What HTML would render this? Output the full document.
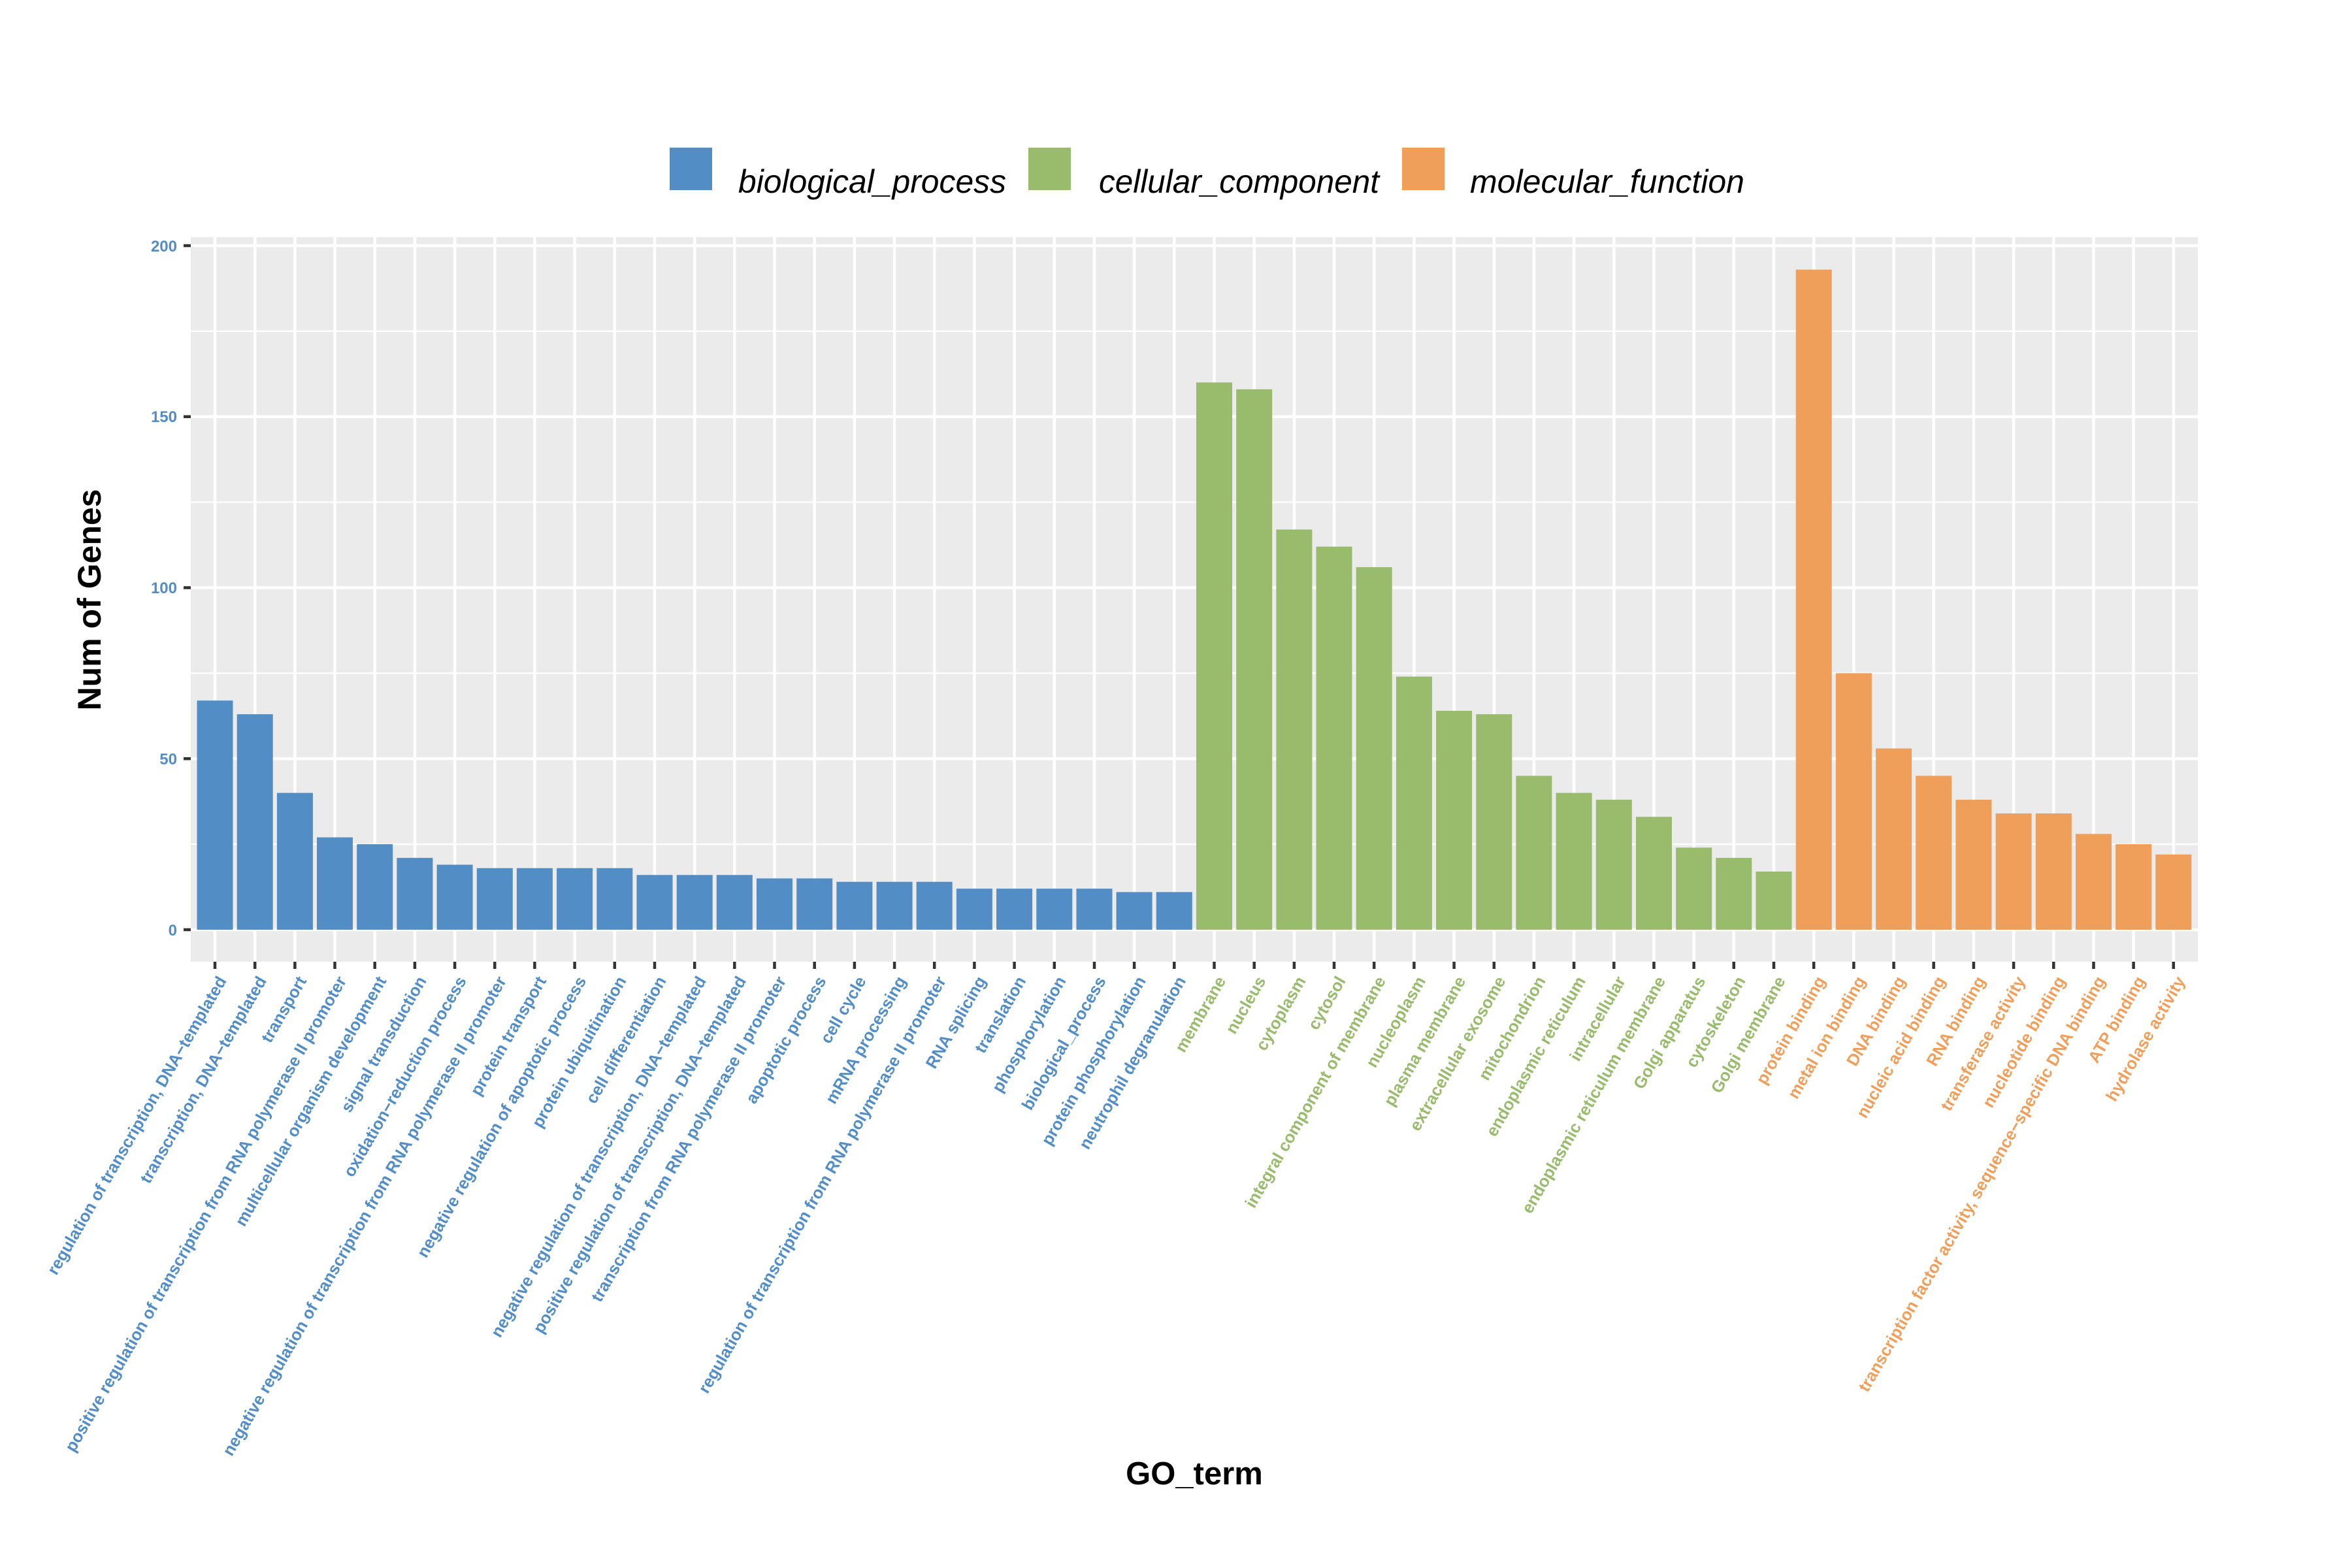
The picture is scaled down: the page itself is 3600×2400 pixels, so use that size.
<!DOCTYPE html>
<html><head><meta charset="utf-8"><style>
html,body{margin:0;padding:0;background:#fff;}
svg{display:block;font-family:"Liberation Sans",Arial,sans-serif;}
.xl text{font-size:25.5px;font-weight:bold;text-anchor:end;}
</style></head><body>
<svg width="3600" height="2400" viewBox="0 0 3600 2400" xmlns="http://www.w3.org/2000/svg">
<rect width="3600" height="2400" fill="#fff"/>
<rect x="1025" y="226" width="65" height="65" fill="#528ec5"/>
<text x="1130" y="295" font-size="50" font-style="italic" textLength="410" lengthAdjust="spacingAndGlyphs">biological_process</text>
<rect x="1574" y="226" width="65" height="65" fill="#98bb6c"/>
<text x="1682" y="295" font-size="50" font-style="italic" textLength="429" lengthAdjust="spacingAndGlyphs">cellular_component</text>
<rect x="2146" y="226" width="65" height="65" fill="#f09f5b"/>
<text x="2250" y="295" font-size="50" font-style="italic" textLength="420" lengthAdjust="spacingAndGlyphs">molecular_function</text>
<rect x="292" y="363" width="3072" height="1109" fill="#ebebeb"/>
<g stroke="#fff" stroke-width="2.3">
<line x1="292" x2="3364" y1="1292.1" y2="1292.1"/><line x1="292" x2="3364" y1="1030.4" y2="1030.4"/><line x1="292" x2="3364" y1="768.6" y2="768.6"/><line x1="292" x2="3364" y1="506.9" y2="506.9"/>
</g>
<g stroke="#fff" stroke-width="4.5">
<line x1="292" x2="3364" y1="1423" y2="1423"/><line x1="292" x2="3364" y1="1161.25" y2="1161.25"/><line x1="292" x2="3364" y1="899.5" y2="899.5"/><line x1="292" x2="3364" y1="637.75" y2="637.75"/><line x1="292" x2="3364" y1="376" y2="376"/>
</g>
<g stroke="#fff" stroke-width="4.5">
<line x1="329.0" x2="329.0" y1="363" y2="1472"/><line x1="390.2" x2="390.2" y1="363" y2="1472"/><line x1="451.4" x2="451.4" y1="363" y2="1472"/><line x1="512.5" x2="512.5" y1="363" y2="1472"/><line x1="573.7" x2="573.7" y1="363" y2="1472"/><line x1="634.9" x2="634.9" y1="363" y2="1472"/><line x1="696.1" x2="696.1" y1="363" y2="1472"/><line x1="757.3" x2="757.3" y1="363" y2="1472"/><line x1="818.4" x2="818.4" y1="363" y2="1472"/><line x1="879.6" x2="879.6" y1="363" y2="1472"/><line x1="940.8" x2="940.8" y1="363" y2="1472"/><line x1="1002.0" x2="1002.0" y1="363" y2="1472"/><line x1="1063.2" x2="1063.2" y1="363" y2="1472"/><line x1="1124.3" x2="1124.3" y1="363" y2="1472"/><line x1="1185.5" x2="1185.5" y1="363" y2="1472"/><line x1="1246.7" x2="1246.7" y1="363" y2="1472"/><line x1="1307.9" x2="1307.9" y1="363" y2="1472"/><line x1="1369.1" x2="1369.1" y1="363" y2="1472"/><line x1="1430.2" x2="1430.2" y1="363" y2="1472"/><line x1="1491.4" x2="1491.4" y1="363" y2="1472"/><line x1="1552.6" x2="1552.6" y1="363" y2="1472"/><line x1="1613.8" x2="1613.8" y1="363" y2="1472"/><line x1="1675.0" x2="1675.0" y1="363" y2="1472"/><line x1="1736.1" x2="1736.1" y1="363" y2="1472"/><line x1="1797.3" x2="1797.3" y1="363" y2="1472"/><line x1="1858.5" x2="1858.5" y1="363" y2="1472"/><line x1="1919.7" x2="1919.7" y1="363" y2="1472"/><line x1="1980.9" x2="1980.9" y1="363" y2="1472"/><line x1="2042.0" x2="2042.0" y1="363" y2="1472"/><line x1="2103.2" x2="2103.2" y1="363" y2="1472"/><line x1="2164.4" x2="2164.4" y1="363" y2="1472"/><line x1="2225.6" x2="2225.6" y1="363" y2="1472"/><line x1="2286.8" x2="2286.8" y1="363" y2="1472"/><line x1="2347.9" x2="2347.9" y1="363" y2="1472"/><line x1="2409.1" x2="2409.1" y1="363" y2="1472"/><line x1="2470.3" x2="2470.3" y1="363" y2="1472"/><line x1="2531.5" x2="2531.5" y1="363" y2="1472"/><line x1="2592.7" x2="2592.7" y1="363" y2="1472"/><line x1="2653.8" x2="2653.8" y1="363" y2="1472"/><line x1="2715.0" x2="2715.0" y1="363" y2="1472"/><line x1="2776.2" x2="2776.2" y1="363" y2="1472"/><line x1="2837.4" x2="2837.4" y1="363" y2="1472"/><line x1="2898.6" x2="2898.6" y1="363" y2="1472"/><line x1="2959.7" x2="2959.7" y1="363" y2="1472"/><line x1="3020.9" x2="3020.9" y1="363" y2="1472"/><line x1="3082.1" x2="3082.1" y1="363" y2="1472"/><line x1="3143.3" x2="3143.3" y1="363" y2="1472"/><line x1="3204.5" x2="3204.5" y1="363" y2="1472"/><line x1="3265.6" x2="3265.6" y1="363" y2="1472"/><line x1="3326.8" x2="3326.8" y1="363" y2="1472"/>
</g>
<g transform="matrix(1,0,0,-5.235,0,1423)">
<g fill="#528ec5">
<rect x="301.5" width="55" y="0" height="67"/><rect x="362.7" width="55" y="0" height="63"/><rect x="423.9" width="55" y="0" height="40"/><rect x="485.0" width="55" y="0" height="27"/><rect x="546.2" width="55" y="0" height="25"/><rect x="607.4" width="55" y="0" height="21"/><rect x="668.6" width="55" y="0" height="19"/><rect x="729.8" width="55" y="0" height="18"/><rect x="790.9" width="55" y="0" height="18"/><rect x="852.1" width="55" y="0" height="18"/><rect x="913.3" width="55" y="0" height="18"/><rect x="974.5" width="55" y="0" height="16"/><rect x="1035.7" width="55" y="0" height="16"/><rect x="1096.8" width="55" y="0" height="16"/><rect x="1158.0" width="55" y="0" height="15"/><rect x="1219.2" width="55" y="0" height="15"/><rect x="1280.4" width="55" y="0" height="14"/><rect x="1341.6" width="55" y="0" height="14"/><rect x="1402.7" width="55" y="0" height="14"/><rect x="1463.9" width="55" y="0" height="12"/><rect x="1525.1" width="55" y="0" height="12"/><rect x="1586.3" width="55" y="0" height="12"/><rect x="1647.5" width="55" y="0" height="12"/><rect x="1708.6" width="55" y="0" height="11"/><rect x="1769.8" width="55" y="0" height="11"/>
</g>
<g fill="#98bb6c">
<rect x="1831.0" width="55" y="0" height="160"/><rect x="1892.2" width="55" y="0" height="158"/><rect x="1953.4" width="55" y="0" height="117"/><rect x="2014.5" width="55" y="0" height="112"/><rect x="2075.7" width="55" y="0" height="106"/><rect x="2136.9" width="55" y="0" height="74"/><rect x="2198.1" width="55" y="0" height="64"/><rect x="2259.3" width="55" y="0" height="63"/><rect x="2320.4" width="55" y="0" height="45"/><rect x="2381.6" width="55" y="0" height="40"/><rect x="2442.8" width="55" y="0" height="38"/><rect x="2504.0" width="55" y="0" height="33"/><rect x="2565.2" width="55" y="0" height="24"/><rect x="2626.3" width="55" y="0" height="21"/><rect x="2687.5" width="55" y="0" height="17"/>
</g>
<g fill="#f09f5b">
<rect x="2748.7" width="55" y="0" height="193"/><rect x="2809.9" width="55" y="0" height="75"/><rect x="2871.1" width="55" y="0" height="53"/><rect x="2932.2" width="55" y="0" height="45"/><rect x="2993.4" width="55" y="0" height="38"/><rect x="3054.6" width="55" y="0" height="34"/><rect x="3115.8" width="55" y="0" height="34"/><rect x="3177.0" width="55" y="0" height="28"/><rect x="3238.1" width="55" y="0" height="25"/><rect x="3299.3" width="55" y="0" height="22"/>
</g>
</g>
<g stroke="#333" stroke-width="4.5">
<line x1="281" x2="292" y1="1423" y2="1423"/><line x1="281" x2="292" y1="1161.25" y2="1161.25"/><line x1="281" x2="292" y1="899.5" y2="899.5"/><line x1="281" x2="292" y1="637.75" y2="637.75"/><line x1="281" x2="292" y1="376" y2="376"/>
</g>
<g fill="#528ec5" font-size="24" font-weight="bold" text-anchor="end">
<text x="271" y="1432">0</text><text x="271" y="1170">50</text><text x="271" y="908">100</text><text x="271" y="646">150</text><text x="271" y="385">200</text>
</g>
<g stroke="#333" stroke-width="4.5">
<path d="M329.0 1472v11M390.2 1472v11M451.4 1472v11M512.5 1472v11M573.7 1472v11M634.9 1472v11M696.1 1472v11M757.3 1472v11M818.4 1472v11M879.6 1472v11M940.8 1472v11M1002.0 1472v11M1063.2 1472v11M1124.3 1472v11M1185.5 1472v11M1246.7 1472v11M1307.9 1472v11M1369.1 1472v11M1430.2 1472v11M1491.4 1472v11M1552.6 1472v11M1613.8 1472v11M1675.0 1472v11M1736.1 1472v11M1797.3 1472v11M1858.5 1472v11M1919.7 1472v11M1980.9 1472v11M2042.0 1472v11M2103.2 1472v11M2164.4 1472v11M2225.6 1472v11M2286.8 1472v11M2347.9 1472v11M2409.1 1472v11M2470.3 1472v11M2531.5 1472v11M2592.7 1472v11M2653.8 1472v11M2715.0 1472v11M2776.2 1472v11M2837.4 1472v11M2898.6 1472v11M2959.7 1472v11M3020.9 1472v11M3082.1 1472v11M3143.3 1472v11M3204.5 1472v11M3265.6 1472v11M3326.8 1472v11"/>
</g>
<g class="xl" fill="#528ec5">
<text transform="translate(332.0,1492) rotate(-60)" dy="0.7em">regulation of transcription, DNA−templated</text>
<text transform="translate(393.2,1492) rotate(-60)" dy="0.7em">transcription, DNA−templated</text>
<text transform="translate(454.4,1492) rotate(-60)" dy="0.7em">transport</text>
<text transform="translate(515.5,1492) rotate(-60)" dy="0.7em">positive regulation of transcription from RNA polymerase II promoter</text>
<text transform="translate(576.7,1492) rotate(-60)" dy="0.7em">multicellular organism development</text>
<text transform="translate(637.9,1492) rotate(-60)" dy="0.7em">signal transduction</text>
<text transform="translate(699.1,1492) rotate(-60)" dy="0.7em">oxidation−reduction process</text>
<text transform="translate(760.3,1492) rotate(-60)" dy="0.7em">negative regulation of transcription from RNA polymerase II promoter</text>
<text transform="translate(821.4,1492) rotate(-60)" dy="0.7em">protein transport</text>
<text transform="translate(882.6,1492) rotate(-60)" dy="0.7em">negative regulation of apoptotic process</text>
<text transform="translate(943.8,1492) rotate(-60)" dy="0.7em">protein ubiquitination</text>
<text transform="translate(1005.0,1492) rotate(-60)" dy="0.7em">cell differentiation</text>
<text transform="translate(1066.2,1492) rotate(-60)" dy="0.7em">negative regulation of transcription, DNA−templated</text>
<text transform="translate(1127.3,1492) rotate(-60)" dy="0.7em">positive regulation of transcription, DNA−templated</text>
<text transform="translate(1188.5,1492) rotate(-60)" dy="0.7em">transcription from RNA polymerase II promoter</text>
<text transform="translate(1249.7,1492) rotate(-60)" dy="0.7em">apoptotic process</text>
<text transform="translate(1310.9,1492) rotate(-60)" dy="0.7em">cell cycle</text>
<text transform="translate(1372.1,1492) rotate(-60)" dy="0.7em">mRNA processing</text>
<text transform="translate(1433.2,1492) rotate(-60)" dy="0.7em">regulation of transcription from RNA polymerase II promoter</text>
<text transform="translate(1494.4,1492) rotate(-60)" dy="0.7em">RNA splicing</text>
<text transform="translate(1555.6,1492) rotate(-60)" dy="0.7em">translation</text>
<text transform="translate(1616.8,1492) rotate(-60)" dy="0.7em">phosphorylation</text>
<text transform="translate(1678.0,1492) rotate(-60)" dy="0.7em">biological_process</text>
<text transform="translate(1739.1,1492) rotate(-60)" dy="0.7em">protein phosphorylation</text>
<text transform="translate(1800.3,1492) rotate(-60)" dy="0.7em">neutrophil degranulation</text>
</g>
<g class="xl" fill="#98bb6c">
<text transform="translate(1861.5,1492) rotate(-60)" dy="0.7em">membrane</text>
<text transform="translate(1922.7,1492) rotate(-60)" dy="0.7em">nucleus</text>
<text transform="translate(1983.9,1492) rotate(-60)" dy="0.7em">cytoplasm</text>
<text transform="translate(2045.0,1492) rotate(-60)" dy="0.7em">cytosol</text>
<text transform="translate(2106.2,1492) rotate(-60)" dy="0.7em">integral component of membrane</text>
<text transform="translate(2167.4,1492) rotate(-60)" dy="0.7em">nucleoplasm</text>
<text transform="translate(2228.6,1492) rotate(-60)" dy="0.7em">plasma membrane</text>
<text transform="translate(2289.8,1492) rotate(-60)" dy="0.7em">extracellular exosome</text>
<text transform="translate(2350.9,1492) rotate(-60)" dy="0.7em">mitochondrion</text>
<text transform="translate(2412.1,1492) rotate(-60)" dy="0.7em">endoplasmic reticulum</text>
<text transform="translate(2473.3,1492) rotate(-60)" dy="0.7em">intracellular</text>
<text transform="translate(2534.5,1492) rotate(-60)" dy="0.7em">endoplasmic reticulum membrane</text>
<text transform="translate(2595.7,1492) rotate(-60)" dy="0.7em">Golgi apparatus</text>
<text transform="translate(2656.8,1492) rotate(-60)" dy="0.7em">cytoskeleton</text>
<text transform="translate(2718.0,1492) rotate(-60)" dy="0.7em">Golgi membrane</text>
</g>
<g class="xl" fill="#f09f5b">
<text transform="translate(2779.2,1492) rotate(-60)" dy="0.7em">protein binding</text>
<text transform="translate(2840.4,1492) rotate(-60)" dy="0.7em">metal ion binding</text>
<text transform="translate(2901.6,1492) rotate(-60)" dy="0.7em">DNA binding</text>
<text transform="translate(2962.7,1492) rotate(-60)" dy="0.7em">nucleic acid binding</text>
<text transform="translate(3023.9,1492) rotate(-60)" dy="0.7em">RNA binding</text>
<text transform="translate(3085.1,1492) rotate(-60)" dy="0.7em">transferase activity</text>
<text transform="translate(3146.3,1492) rotate(-60)" dy="0.7em">nucleotide binding</text>
<text transform="translate(3207.5,1492) rotate(-60)" dy="0.7em">transcription factor activity, sequence−specific DNA binding</text>
<text transform="translate(3268.6,1492) rotate(-60)" dy="0.7em">ATP binding</text>
<text transform="translate(3329.8,1492) rotate(-60)" dy="0.7em">hydrolase activity</text>
</g>
<text transform="translate(154,918) rotate(-90)" text-anchor="middle" font-size="50" font-weight="bold">Num of Genes</text>
<text x="1828" y="2272" text-anchor="middle" font-size="49" font-weight="bold">GO_term</text>
</svg>
</body></html>
